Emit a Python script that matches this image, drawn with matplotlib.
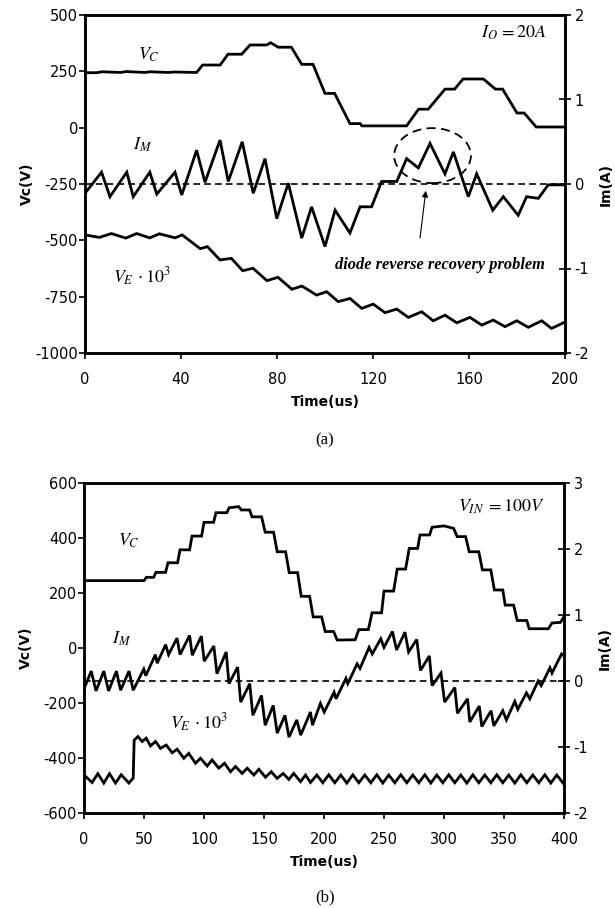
import matplotlib
matplotlib.use('Agg')
import matplotlib.pyplot as plt
from matplotlib.patches import Ellipse


# ---- (a) constant load, I_O = 20A ----
t_vc_a = [0, 5, 7, 15, 17, 25, 27, 35, 37, 46.5, 49, 56.3, 59.6, 65.3, 68.75, 75.7, 77.4, 80.5,
          86, 90.3, 95, 100, 104, 110.4, 114.6, 115.4, 134, 139, 143, 150, 154, 157.5, 166, 171,
          174, 180, 183, 188, 200]
vc_a = [244, 244, 248, 245, 249, 245, 248, 245, 247, 245, 278, 278, 326, 326, 367, 367, 377, 357,
        357, 281, 281, 152, 152, 18, 18, 8, 8, 82, 82, 171, 171, 216, 216, 171,
        171, 65, 65, 3, 3]

t_im_a = [0, 6.9, 10.4, 17.4, 20.1, 27, 29.9, 37.5, 40.3, 46.5, 50, 56.25, 59.7, 65.5, 70.1, 75,
          79.9, 84.7, 90.3, 94.4, 100, 104.2, 110.4, 114.6, 119.4, 123.6, 129.9, 134, 138.9,
          143.75, 150, 153.5, 159.7, 163.2, 169.9, 174.3, 180.5, 184, 188.9, 193, 200]
im_a = [-0.11, 0.14, -0.15, 0.14, -0.15, 0.14, -0.12, 0.14, -0.13, 0.40, 0.02, 0.52, 0.03, 0.50,
        -0.11, 0.30, -0.41, 0.01, -0.64, -0.27, -0.74, -0.31, -0.58, -0.27, -0.27, 0.03, 0.03,
        0.30, 0.19, 0.48, 0.12, 0.38, -0.15, 0.12, -0.31, -0.15, -0.37, -0.15, -0.17, -0.01, -0.01]

t_ve_a = [0, 6, 11, 17, 21.5, 27, 31, 37.5, 40.5, 48, 51, 56.25, 61, 65.7, 70, 75.8, 80.4, 86.2,
          90.4, 96.5, 100.7, 105.5, 110.4, 115.3, 120.1, 125, 129.9, 134.7, 140.3, 145.1, 150,
          154.9, 160.4, 165.3, 170.1, 175, 179.9, 184.7, 190.3, 194.4, 199.3, 200]
ve_a = [-476, -487, -470, -490, -470, -489, -471, -489, -476, -537, -528, -587, -580, -635, -624,
        -679, -664, -717, -703, -743, -728, -772, -758, -802, -783, -821, -805, -842, -817, -857,
        -832, -866, -842, -876, -854, -883, -857, -886, -857, -891, -866, -862]

# ---- (b) input voltage step, V_IN = 100V ----
t_vc_b = [0, 50, 52, 58, 60, 68, 70, 78, 80, 88, 90, 98, 100, 108, 110, 119, 121, 129, 131, 138,
          140, 148, 151, 158, 161, 168, 171, 178, 181, 188, 191, 198, 201, 208, 211, 226, 229,
          237, 240, 248, 250, 258, 261, 268, 271, 278, 280, 288, 290, 300, 308, 311, 318, 321,
          329, 332, 339, 342, 349, 351, 358, 361, 369, 371, 387, 390, 397, 400]
vc_b = [245, 245, 257, 257, 275, 275, 310, 310, 357, 357, 407, 407, 457, 457, 492, 492, 510, 514,
        502, 502, 477, 477, 421, 421, 350, 350, 274, 274, 188, 188, 113, 113, 60, 60, 29, 30, 67,
        67, 128, 128, 207, 207, 287, 287, 362, 362, 411, 411, 439, 444, 435, 405, 405, 350,
        350, 284, 284, 211, 211, 156, 156, 100, 100, 70, 70, 91, 93, 114]

t_im_b = [0, 6, 10, 16.5, 20.5, 27, 30.5, 37.5, 41, 49.8, 51.5, 59.5, 61, 68, 70.5, 77.5, 80, 88,
          90.2, 97.8, 100.2, 108.2, 110.8, 118.5, 120.8, 128, 130.6, 138.1, 140.7, 147.9, 151,
          157.7, 161, 167.5, 170.8, 177.3, 180.6, 188.7, 190.4, 197, 200.2, 208.4, 210, 218.3,
          219.8, 227.6, 230, 237.6, 240.2, 247.3, 250, 257, 260.5, 267.5, 270.5, 277.3, 280.4,
          287.8, 290.1, 297.5, 300.5, 309, 311.2, 319.6, 321.5, 329.4, 331.5, 339.25, 341.5,
          349, 352, 359, 361.5, 368.7, 371.5, 378.5, 381, 388.3, 390, 398, 400]
im_b = [-0.12, 0.15, -0.15, 0.15, -0.15, 0.15, -0.14, 0.15, -0.14, 0.18, 0.08, 0.40, 0.27, 0.55,
        0.40, 0.65, 0.40, 0.69, 0.39, 0.68, 0.30, 0.53, 0.11, 0.44, -0.04, 0.21, -0.32, -0.04,
        -0.52, -0.22, -0.67, -0.37, -0.79, -0.52, -0.85, -0.59, -0.82, -0.47, -0.67, -0.34,
        -0.47, -0.17, -0.27, 0.04, -0.04, 0.26, 0.19, 0.51, 0.41, 0.64, 0.51, 0.75, 0.47, 0.74,
        0.44, 0.63, 0.16, 0.38, -0.07, 0.12, -0.32, -0.10, -0.49, -0.27, -0.62, -0.38, -0.69,
        -0.45, -0.68, -0.45, -0.59, -0.31, -0.43, -0.18, -0.27, 0.00, -0.07, 0.20, 0.12, 0.41,
        0.38]

t_ve_b = [0, 6.8, 11.5, 16.5, 21.25, 26.25, 31, 37.4, 41, 41.8, 44.9, 48.5, 51.8, 55.4, 59.6,
          63.75, 68.5, 73.5, 77.6, 83.2, 87.3, 92.9, 97.1, 102.7, 106.8, 112.3, 117.1, 122.1,
          126.25, 131.8, 136, 141.5, 145.7, 151.25, 156, 161, 166, 170.7, 174.8, 180.4, 184.6,
          188.75, 194, 199, 204, 209, 214, 219, 224, 229, 234, 239, 244, 249, 254, 259, 264,
          269, 274, 279, 284, 289, 294, 299, 304, 309, 314, 319, 324, 329, 334, 339, 344, 349,
          354, 359, 364, 369, 374, 379, 384, 389, 394, 399, 400]
ve_b = [-462, -489, -457, -491, -457, -491, -461, -491, -473, -335, -322, -340, -328, -356, -340,
        -365, -353, -381, -368, -401, -383, -419, -401, -429, -407, -437, -419, -450,
        -431, -456, -437, -462, -441, -470, -450, -474, -456, -478, -456, -486, -462,
        -489, -462, -490, -461, -490, -462, -491, -461, -490, -462, -490, -461, -491, -462, -490,
        -461, -490, -462, -490, -461, -491, -462, -490, -461, -490, -462, -491, -461, -490,
        -462, -490, -461, -490, -462, -491, -461, -490, -462, -490, -461, -491, -462, -490, -485]

LW = 2.0
SPINE = 1.8


def style_axes(ax, axr, xticks, yticks, rticks):
	for a in (ax, axr):
		for sp in a.spines.values():
			sp.set_linewidth(SPINE)
	ax.set_xticks(xticks)
	ax.set_yticks(yticks)
	axr.set_yticks(rticks)
	ax.tick_params(axis='y', direction='out', length=4, width=1.2, pad=1, labelsize=10.5)
	ax.tick_params(axis='x', direction='out', length=4, width=1.2, pad=10, labelsize=10.5)
	axr.tick_params(axis='y', direction='inout', length=8, width=1.2, pad=3, labelsize=10.5)


def draw_panel(ax, t_vc, vc, t_im, im, t_ve, ve, xmax, ylim, rlim):
	axr = ax.twinx()
	ax.plot(t_vc, vc, color='black', lw=LW, solid_joinstyle='miter')
	ax.plot(t_ve, ve, color='black', lw=LW, solid_joinstyle='miter')
	axr.plot(t_im, im, color='black', lw=LW, solid_joinstyle='miter')
	axr.axhline(0, color='black', lw=1.2, ls=(0, (4, 2.5)))
	ax.set_xlim(0, xmax)
	ax.set_ylim(*ylim)
	axr.set_ylim(*rlim)
	return axr


def labels(ax, xlab_y):
	ax.text(-0.121, 0.5, 'Vc(V)', transform=ax.transAxes, rotation=90, ha='center',
	        va='center', fontsize=10, fontweight='bold')
	ax.text(1.084, 0.5, 'Im(A)', transform=ax.transAxes, rotation=90, ha='center',
	        va='center', fontsize=10, fontweight='bold')
	ax.text(0.5, xlab_y, 'Time(us)', transform=ax.transAxes, ha='center', va='center',
	        fontsize=10, fontweight='bold')


def main():
	plt.rcParams['font.family'] = ['DejaVu Sans']
	plt.rcParams['mathtext.fontset'] = 'stix'
	plt.rcParams['axes.unicode_minus'] = False

	fig = plt.figure(figsize=(6.15, 9.08), dpi=100)
	ax1 = fig.add_axes([85 / 615, 1 - 353 / 908, 480 / 615, 338 / 908])
	ax2 = fig.add_axes([84 / 615, 1 - 813 / 908, 480 / 615, 330 / 908])

	# (a)
	ax1r = draw_panel(ax1, t_vc_a, vc_a, t_im_a, im_a, t_ve_a, ve_a, 200, (-1000, 500), (-2, 2))
	style_axes(ax1, ax1r, [0, 40, 80, 120, 160, 200], [-1000, -750, -500, -250, 0, 250, 500],
	           [-2, -1, 0, 1, 2])
	labels(ax1, -0.145)
	ax1.text(22, 322, r'$V_C$', fontsize=13, ha='left', va='center')
	ax1.text(20, -75, r'$I_M$', fontsize=13, ha='left', va='center')
	ax1.text(11.5, -663, r'$V_E\,\cdot 10^3$', fontsize=13, ha='left', va='center')
	ax1.text(192.5, 420, r'$I_O\,=20A$', fontsize=13, ha='right', va='center')
	ax1.text(148, -610, 'diode reverse recovery problem', fontsize=11.8, ha='center',
	         va='center', family='Liberation Serif', style='italic', fontweight='bold')
	ax1.add_patch(Ellipse((144.8, -124), 32, 244, fill=False, ec='black', lw=1.3,
	                      ls=(0, (5, 3))))
	ax1.annotate('', xy=(142, -280), xytext=(139.6, -490),
	             arrowprops=dict(arrowstyle='-|>', lw=0.8, color='black', mutation_scale=9,
	                             shrinkA=0, shrinkB=0))

	# (b)
	ax2r = draw_panel(ax2, t_vc_b, vc_b, t_im_b, im_b, t_ve_b, ve_b, 400, (-600, 600), (-2, 3))
	style_axes(ax2, ax2r, list(range(0, 401, 50)), list(range(-600, 601, 200)),
	           [-2, -1, 0, 1, 2, 3])
	labels(ax2, -0.148)
	ax2.text(28, 389, r'$V_C$', fontsize=13, ha='left', va='center')
	ax2.text(23.5, 33, r'$I_M$', fontsize=13, ha='left', va='center')
	ax2.text(72, -273, r'$V_E\,\cdot 10^3$', fontsize=13, ha='left', va='center')
	ax2.text(384.5, 513, r'$V_{IN}\;=100V$', fontsize=13, ha='right', va='center')

	fig.text(325 / 615, 1 - 440 / 908, '(a)', ha='center', va='center', fontsize=12,
	         family='Liberation Serif')
	fig.text(325 / 615, 1 - 897 / 908, '(b)', ha='center', va='center', fontsize=12,
	         family='Liberation Serif')

	fig.savefig('out.png', dpi=100)


if __name__ == '__main__':
	main()
